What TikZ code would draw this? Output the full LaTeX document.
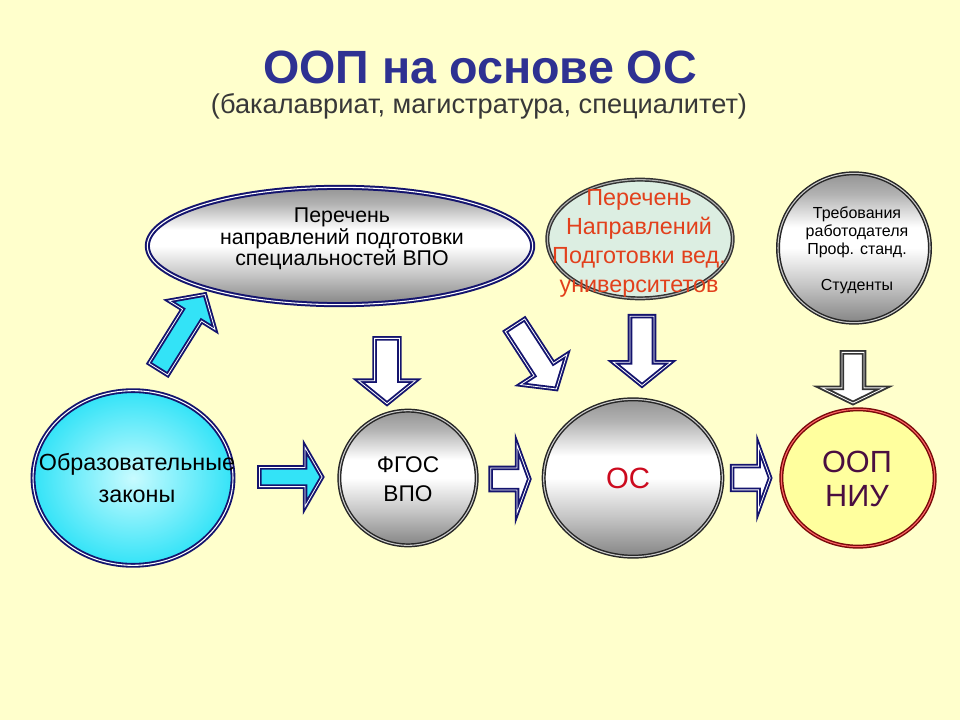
\documentclass[tikz,border=0pt]{standalone}
\usepackage{fontspec}
\setmainfont{Liberation Sans}
\usetikzlibrary{shapes.geometric,shapes.arrows}

\definecolor{bgyellow}{HTML}{FFFFCC}
\definecolor{titleblue}{HTML}{2E3192}
\definecolor{navyline}{HTML}{14146E}
\definecolor{lightcyan}{HTML}{C8FBFF}
\definecolor{deepcyan}{HTML}{33E3F7}
\definecolor{mint}{HTML}{DCEEE2}
\definecolor{redtext}{HTML}{E2401C}
\definecolor{osred}{HTML}{CC0A1E}
\definecolor{oopyellow}{HTML}{FFFF9E}
\definecolor{oopline}{HTML}{7A0A0A}
\definecolor{ooptext}{HTML}{4A0E40}

\pgfdeclareverticalshading{silver}{100bp}{color(0bp)=(black!48); color(25bp)=(black!48); color(38bp)=(black!22); color(50bp)=(white); color(57bp)=(white); color(68bp)=(black!30); color(75bp)=(black!42); color(100bp)=(black!42)}

\tikzstyle{oval}=[ellipse, inner sep=0pt, line width=1.1pt, double distance=0.8pt]
\tikzstyle{silveroval}=[oval, shading=silver, draw=black!85, double=black!20]
\tikzstyle{navyoval}=[oval, shading=silver, draw=navyline, double=white, line width=1.5pt]
\tikzstyle{cyanoval}=[oval, inner color=lightcyan, outer color=deepcyan, draw=navyline, double=white, line width=1.4pt]
\tikzstyle{mintoval}=[oval, fill=mint, draw=black!80, double=black!30]
\tikzstyle{yellowoval}=[oval, fill=oopyellow, draw=oopline, double=red!60]
\tikzstyle{txt}=[align=center, inner sep=0pt]
\tikzstyle{blockarrow}=[single arrow, inner sep=0pt, line width=1.4pt, double distance=0.6pt, double=white]
\tikzstyle{navyarrow}=[blockarrow, draw=navyline, fill=white]
\tikzstyle{cyanarrow}=[blockarrow, draw=navyline, fill=deepcyan]
\tikzstyle{grayarrow}=[blockarrow, draw=black!80, fill=white]

\begin{document}
\begin{tikzpicture}[x=0.75pt, y=-0.75pt]
    \useasboundingbox (0,0) rectangle (960,720);
    \fill[bgyellow] (0,0) rectangle (960,720);

    % Title
    \node[txt, font=\fontsize{35}{38}\selectfont\bfseries, text=titleblue] (title) at (480,67) {ООП на основе ОС};
    \node[txt, font=\fontsize{20.4}{23}\selectfont, text=black!78] (subtitle) at (479,106) {(бакалавриат, магистратура, специалитет)};

    % First we draw the ovals
    \node[navyoval, minimum width=289pt, minimum height=88pt] (spisok) at (340,246) {};
    \node[mintoval, minimum width=139pt, minimum height=89pt] (perechen) at (640,239) {};
    \node[silveroval, minimum width=114pt, minimum height=112pt] (trebovaniya) at (854,248) {};
    \node[cyanoval, minimum width=150pt, minimum height=131pt] (zakony) at (133,478) {};
    \node[silveroval, minimum width=103pt, minimum height=101pt] (fgos) at (408,478) {};
    \node[silveroval, minimum width=134pt, minimum height=118pt] (os) at (633,478) {};
    \node[yellowoval, minimum width=115pt, minimum height=103pt] (oop) at (858,478) {};

    % Then the texts inside them
    \node[txt, font=\fontsize{16}{14.6}\selectfont] (spisok-t) at (342,239) {Перечень\\направлений подготовки\\специальностей ВПО};
    \node[txt, font=\fontsize{17.5}{21.8}\selectfont, text=redtext] (perechen-t) at (639,243) {Перечень\\Направлений\\Подготовки вед.\\университетов};
    \node[txt, font=\fontsize{12}{13.5}\selectfont] (trebovaniya-t) at (857,250) {Требования\\работодателя\\Проф. станд.\\[13.5pt]Студенты};
    \node[txt, font=\fontsize{17.5}{24}\selectfont] (zakony-t) at (137,478) {Образовательные\\законы};
    \node[txt, font=\fontsize{17}{22}\selectfont] (fgos-t) at (408,479) {ФГОС\\ВПО};
    \node[txt, font=\fontsize{22}{25}\selectfont, text=osred] (os-t) at (628,478) {ОС};
    \node[txt, font=\fontsize{23}{25}\selectfont, text=ooptext] (oop-t) at (857,479) {ООП\\НИУ};

    % Block arrows between the ovals
    \foreach \name/\pos/\ang/\len/\shaft/\head/\tip/\kind in {
        up/{(179,336)}/58/66pt/7.6pt/12pt/96/cyanarrow,
        down1/{(387,366)}/-90/49pt/8.6pt/12pt/102/navyarrow,
        down2/{(533,353)}/-57/57pt/8pt/12pt/100/navyarrow,
        down3/{(642,346)}/-90/52pt/8.3pt/12.5pt/102/navyarrow,
        down4/{(853,375)}/-90/38pt/7.6pt/15pt/128/grayarrow,
        right1/{(288,477)}/0/47pt/6.5pt/15pt/120/cyanarrow,
        right2/{(508,479)}/0/29pt/7.6pt/17pt/140/navyarrow,
        right3/{(749,478)}/0/28.5pt/8.2pt/15pt/140/navyarrow}
        \node[\kind, rotate=\ang, minimum height=\len, inner ysep=\shaft, single arrow head extend=\head, single arrow tip angle=\tip] (\name) at \pos {};
\end{tikzpicture}
\end{document}
